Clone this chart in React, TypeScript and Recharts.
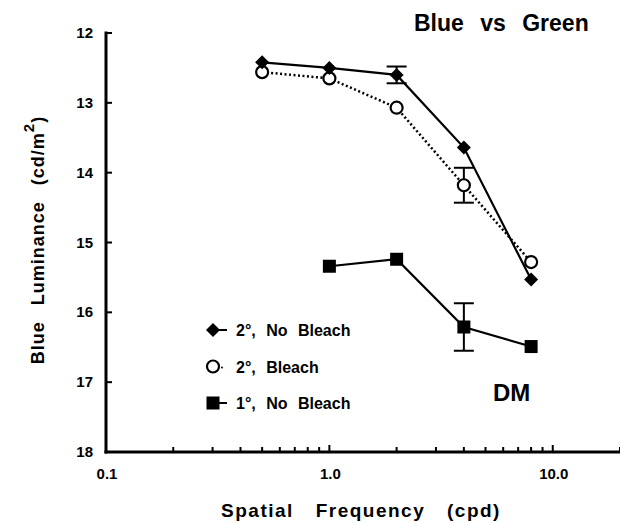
import React from "react";
import {
  ComposedChart,
  Line,
  XAxis,
  YAxis,
  ErrorBar,
  Label,
} from "recharts";

// spatial frequency (cpd)
const freqs2deg = [0.5, 1, 2, 4, 8];
const freqs1deg = [1, 2, 4, 8];

// blue luminance (cd/m2)
const noBleach2 = [12.42, 12.5, 12.6, 13.64, 15.53];
const noBleach2Err = [null, null, 0.12, null, null];
const bleach2 = [12.56, 12.65, 13.07, 14.18, 15.28];
const bleach2Err = [null, null, null, 0.25, null];
const noBleach1 = [15.34, 15.24, 16.21, 16.49];
const noBleach1Err = [null, null, 0.34, null];

const xTicks = [0.1, 0.2, 0.3, 0.4, 0.5, 0.6, 0.7, 0.8, 0.9, 1, 2, 3, 4, 5, 6, 7, 8, 9, 10, 20];
const xTickLabels: Record<string, string> = { "0.1": "0.1", "1": "1.0", "10": "10.0" };
const yTicks = [12, 13, 14, 15, 16, 17, 18];

const FONT = '"Liberation Sans", Arial, Helvetica, sans-serif';

const toRows = (xs: number[], ys: number[], errs: (number | null)[]) =>
  xs.map((x, i) => ({ x, y: ys[i], err: errs[i] ?? undefined }));

const diamondRows = toRows(freqs2deg, noBleach2, noBleach2Err);
const circleRows = toRows(freqs2deg, bleach2, bleach2Err);
const squareRows = toRows(freqs1deg, noBleach1, noBleach1Err);

const Diamond = ({ cx, cy }: any) => (
  <polygon
    points={`${cx},${cy - 7} ${cx + 7},${cy} ${cx},${cy + 7} ${cx - 7},${cy}`}
    fill="#000"
  />
);
const Circle = ({ cx, cy }: any) => (
  <circle cx={cx} cy={cy} r={6} fill="#fff" stroke="#000" strokeWidth={2.2} />
);
const Square = ({ cx, cy }: any) => (
  <rect x={cx - 6.5} y={cy - 6.5} width={13} height={13} fill="#000" />
);

const XTick = (props: any) => {
  const { x, y, payload } = props;
  const label = xTickLabels[String(payload.value)];
  return (
    <g>
      <line x1={x} x2={x} y1={y} y2={y - (label ? 7 : 5)} stroke="#000" strokeWidth={2} />
      {label && (
        <text x={x + 1} y={y + 27} textAnchor="middle" fontFamily={FONT} fontWeight="bold" fontSize={15} fill="#000">
          {label}
        </text>
      )}
    </g>
  );
};

const YTick = (props: any) => {
  const { x, y, payload } = props;
  return (
    <g>
      <line x1={x} x2={x + 6} y1={y} y2={y} stroke="#000" strokeWidth={2} />
      <text x={x - 13} y={y + 5} textAnchor="end" fontFamily={FONT} fontWeight="bold" fontSize={15} fill="#000">
        {payload.value}
      </text>
    </g>
  );
};

const legendItems = [
  { name: "2°, No Bleach", icon: "diamond" },
  { name: "2°, Bleach", icon: "circle" },
  { name: "1°, No Bleach", icon: "square" },
];

const LegendBox = () => (
  <svg width={170} height={100} style={{ overflow: "visible" }}>
    {legendItems.map((item, i) => {
      const cy = 12 + i * 36.5;
      return (
        <g key={item.name}>
          {item.icon === "diamond" && (
            <>
              <line x1={8} x2={22} y1={cy} y2={cy} stroke="#000" strokeWidth={2} />
              <Diamond cx={8} cy={cy} />
            </>
          )}
          {item.icon === "circle" && (
            <>
              <Circle cx={8} cy={cy} />
              <circle cx={17} cy={cy + 1} r={1} fill="#000" />
            </>
          )}
          {item.icon === "square" && (
            <>
              <line x1={8} x2={22} y1={cy} y2={cy} stroke="#000" strokeWidth={2} />
              <Square cx={8} cy={cy} />
            </>
          )}
          <text
            x={31}
            y={cy + 6}
            fontFamily={FONT}
            fontWeight="bold"
            fontSize={16}
            wordSpacing={6}
            fill="#000"
          >
            {item.name}
          </text>
        </g>
      );
    })}
  </svg>
);

const YLabel = () => (
  <text
    transform="translate(38,240) rotate(-90)"
    textAnchor="middle"
    fontFamily={FONT}
    fontWeight="bold"
    fontSize={18}
    letterSpacing={1}
    wordSpacing={10}
    fill="#000"
    dy={6}
  >
    Blue Luminance (cd/m
    <tspan dy={-10} fontSize={15}>2</tspan>
    <tspan dy={10}>)</tspan>
  </text>
);

const XLabel = () => (
  <text
    x={361}
    y={517}
    textAnchor="middle"
    fontFamily={FONT}
    fontWeight="bold"
    fontSize={19}
    letterSpacing={1.5}
    wordSpacing={15}
    fill="#000"
  >
    Spatial Frequency (cpd)
  </text>
);

export default function App() {
  return (
    <div style={{ position: "absolute", left: 0, top: 0, width: 620, height: 523, background: "#fff" }}>
      <ComposedChart
        width={620}
        height={523}
        margin={{ top: 33, right: 0, bottom: 0, left: 0 }}
      >
        <XAxis
          type="number"
          dataKey="x"
          scale="log"
          domain={[0.1, 20]}
          allowDataOverflow
          ticks={xTicks}
          interval={0}
          tickSize={0}
          tickMargin={0}
          tickLine={false}
          tick={<XTick />}
          height={71}
          axisLine={{ stroke: "#000", strokeWidth: 3, strokeLinecap: "square" }}
        >
          <Label content={<XLabel />} />
        </XAxis>
        <YAxis
          type="number"
          domain={[12, 18]}
          reversed
          ticks={yTicks}
          interval={0}
          width={106}
          tickSize={0}
          tickMargin={0}
          tickLine={false}
          tick={<YTick />}
          axisLine={{ stroke: "#000", strokeWidth: 3, strokeLinecap: "square" }}
        >
          <Label content={<YLabel />} />
        </YAxis>
        <Line
          data={circleRows}
          dataKey="y"
          name="2°, Bleach"
          stroke="#000"
          strokeWidth={2.5}
          strokeDasharray="2 2.5"
          dot={(p: any) => <Circle key={`c${p.index}`} cx={p.cx} cy={p.cy} />}
          isAnimationActive={false}
        >
          <ErrorBar dataKey="err" direction="y" width={10} stroke="#000" strokeWidth={2} isAnimationActive={false} />
        </Line>
        <Line
          data={diamondRows}
          dataKey="y"
          name="2°, No Bleach"
          stroke="#000"
          strokeWidth={2.2}
          dot={(p: any) => <Diamond key={`d${p.index}`} cx={p.cx} cy={p.cy} />}
          isAnimationActive={false}
        >
          <ErrorBar dataKey="err" direction="y" width={10} stroke="#000" strokeWidth={2} isAnimationActive={false} />
        </Line>
        <Line
          data={squareRows}
          dataKey="y"
          name="1°, No Bleach"
          stroke="#000"
          strokeWidth={2.2}
          dot={(p: any) => <Square key={`s${p.index}`} cx={p.cx} cy={p.cy} />}
          isAnimationActive={false}
        >
          <ErrorBar dataKey="err" direction="y" width={10} stroke="#000" strokeWidth={2} isAnimationActive={false} />
        </Line>
      </ComposedChart>
      <div style={{ position: "absolute", left: 205, top: 318, width: 170, height: 100 }}>
        <LegendBox />
      </div>
      <div
        style={{
          position: "absolute",
          left: 414,
          top: 8,
          fontFamily: FONT,
          fontWeight: "bold",
          fontSize: 23,
          wordSpacing: 10,
          whiteSpace: "nowrap",
          lineHeight: "30px",
        }}
      >
        Blue vs Green
      </div>
      <div
        style={{
          position: "absolute",
          left: 493,
          top: 378,
          fontFamily: FONT,
          fontWeight: "bold",
          fontSize: 24,
          lineHeight: "30px",
        }}
      >
        DM
      </div>
    </div>
  );
}
